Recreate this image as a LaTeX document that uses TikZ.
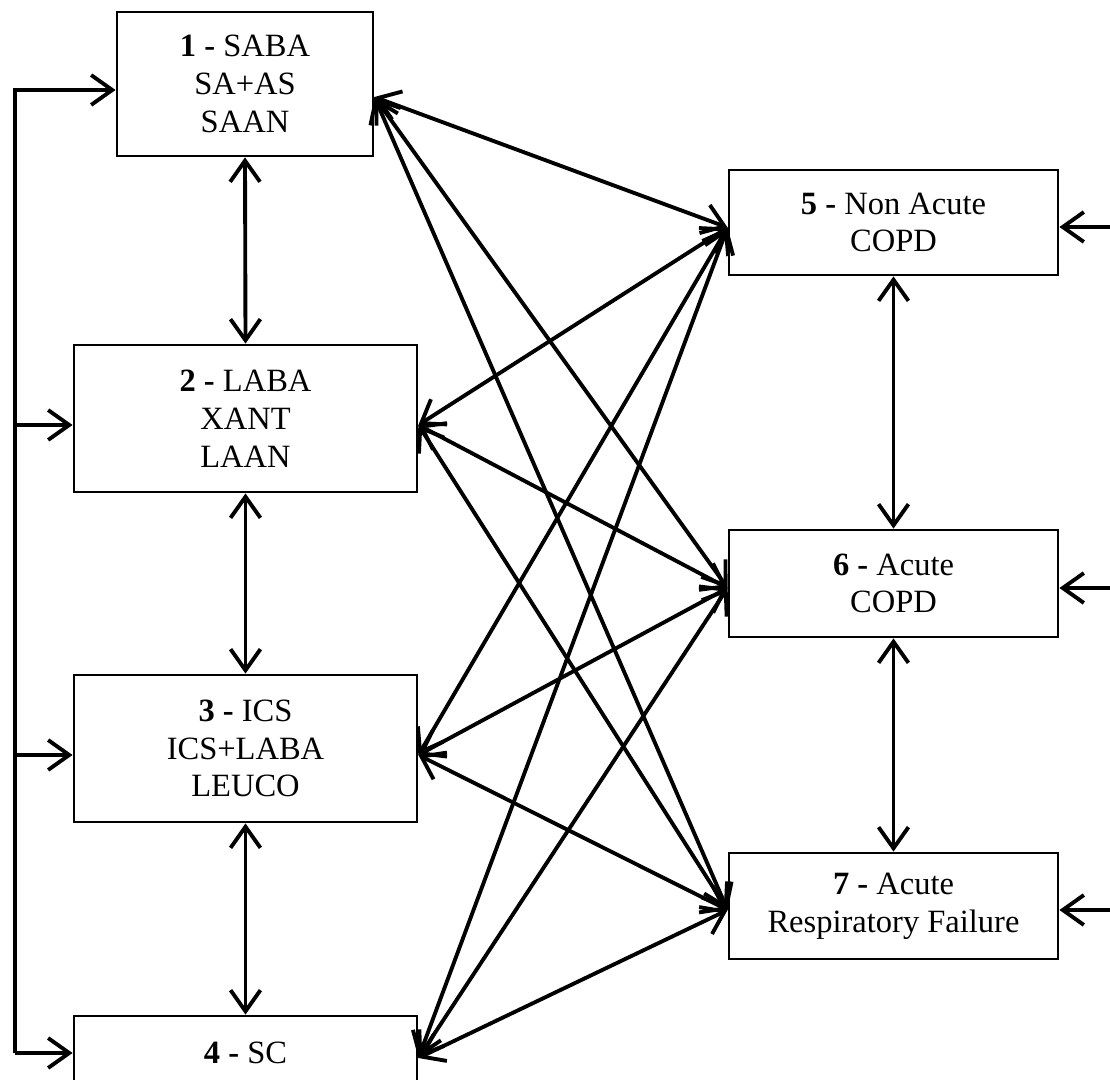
\documentclass[tikz,border=0pt]{standalone}
\usepackage{fontspec}
\setmainfont{Liberation Serif}
\usetikzlibrary{arrows.meta}
\newcommand{\boxfont}{\fontsize{18.5}{21.5}\selectfont}
\tikzset{
  box/.style = {draw, line width=1.6pt, align=center, inner sep=0pt, font=\boxfont},
  link/.style = {line width=2.2pt, <->},
  feed/.style = {line width=2.2pt, ->}
}
\begin{document}
\begin{tikzpicture}[x=0.2mm, y=-0.2mm, >={Straight Barb[length=12pt,width=17pt]}]
  \useasboundingbox (0,0) rectangle (1110,1080);
  \node[box, minimum width=51.2mm, minimum height=28.8mm] (b1) at (245,84) {\textbf{1 -} SABA\\SA+AS\\SAAN};
  \node[box, minimum width=68.6mm, minimum height=29.4mm] (b2) at (245.5,418.5) {\textbf{2 -} LABA\\XANT\\LAAN};
  \node[box, minimum width=68.6mm, minimum height=29.4mm] (b3) at (245.5,748.5) {\textbf{3 -} ICS\\ICS+LABA\\LEUCO};
  \node[box, minimum width=68.6mm, minimum height=14.8mm] (b4) at (245.5,1053) {\textbf{4 -} SC};
  \node[box, minimum width=65.8mm, minimum height=21mm] (b5) at (893.5,222.5) {\textbf{5 -} Non Acute\\COPD};
  \node[box, minimum width=65.8mm, minimum height=21.4mm] (b6) at (893.5,583.5) {\textbf{6 -} Acute\\COPD};
  \node[box, minimum width=65.8mm, minimum height=21.2mm] (b7) at (893.5,906) {\textbf{7 -} Acute\\Respiratory Failure};

  \foreach \i/\d/\e in {1/1.2mm/2.6mm, 2/1.3mm/1.3mm, 3/1.3mm/1.3mm, 4/0mm/1mm} {
    \coordinate (p\i) at ([yshift=-\d]b\i.west);
    \coordinate (e\i) at ([yshift=-\e]b\i.east);
  }
  \foreach \j/\d in {5/1mm, 6/0.9mm, 7/0.8mm}
    \coordinate (w\j) at ([yshift=-\d]b\j.west);

  \foreach \i in {1,...,4}
    \foreach \j in {5,6,7}
      \draw[link] (e\i) -- (w\j);

  \draw[link] (b1.south) -- (b2.north);
  \draw[link] (b2.south) -- (b3.north);
  \draw[link] (b3.south) -- (b4.north);
  \draw[link] (b5.south) -- (b6.north);
  \draw[link] (b6.south) -- (b7.north);

  \coordinate (fb) at (15,1053);
  \foreach \i in {1,...,4}
    \draw[feed] (fb) |- (p\i);

  \foreach \j/\y in {5/227, 6/588, 7/910} {
    \coordinate (in\j) at (1110,\y);
    \draw[feed] (in\j) -- (in\j -| b\j.east);
  }
\end{tikzpicture}
\end{document}
